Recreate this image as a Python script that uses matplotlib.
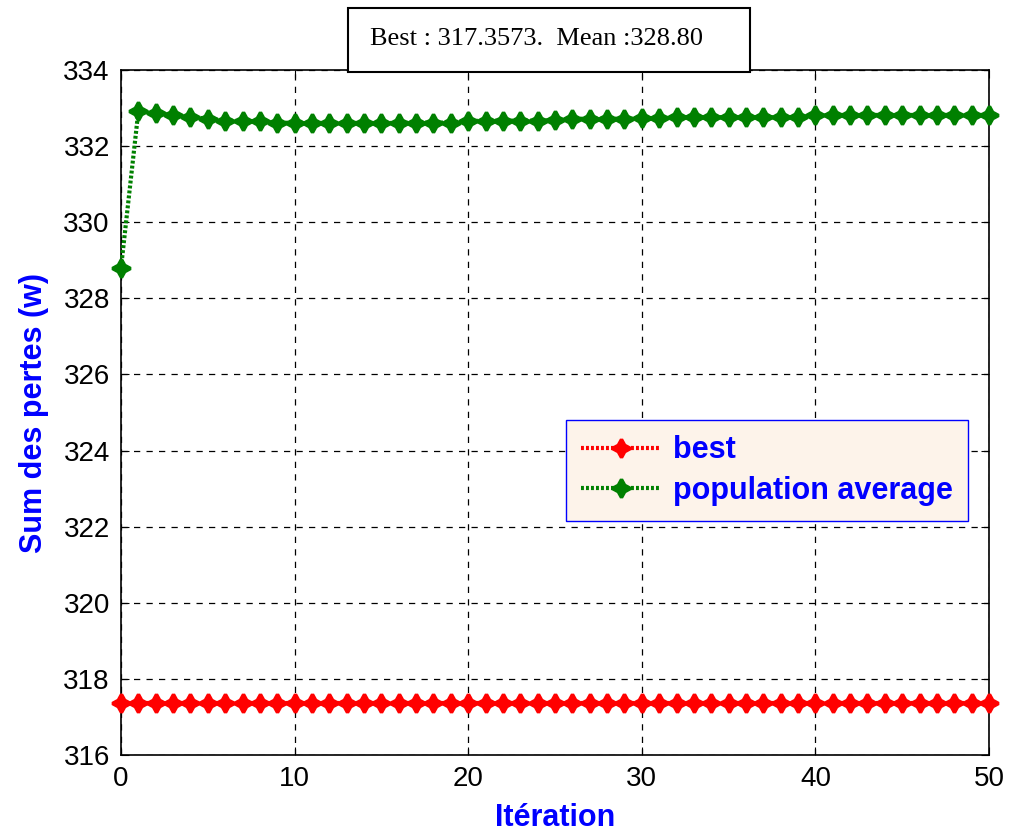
import matplotlib.pyplot as plt
from matplotlib.patches import Rectangle

iterations = list(range(51))
best = [317.3573] * 51
pop_avg = [328.80, 332.92, 332.86, 332.82, 332.77, 332.72, 332.67, 332.66, 332.65, 332.62,
           332.61, 332.61, 332.61, 332.61, 332.61, 332.61, 332.61, 332.62, 332.62, 332.62,
           332.66, 332.67, 332.67, 332.67, 332.67, 332.68, 332.72, 332.72, 332.72, 332.72,
           332.73, 332.73, 332.76, 332.76, 332.76, 332.76, 332.76, 332.76, 332.76, 332.76,
           332.81, 332.82, 332.82, 332.82, 332.82, 332.82, 332.82, 332.82, 332.82, 332.82,
           332.82]
title_txt = 'Best : 317.3573.  Mean :328.80'

plt.rcParams['font.family'] = ['Liberation Sans', 'DejaVu Sans']

fig = plt.figure(figsize=(10.1, 8.34), dpi=100)
ax = fig.add_axes([0.1198, 0.0947, 0.8594, 0.8213])

dots = (0, (0.7, 0.5))
mk = dict(marker=(4, 1, 0), markersize=13, markeredgewidth=2.5, clip_on=False, zorder=3)
ax.plot(iterations, best, color='red', linestyle=dots, linewidth=3, label='best', **mk)
ax.plot(iterations, pop_avg, color='green', linestyle=dots, linewidth=3,
        label='population average', **mk)

ax.set_xlim(0, 50)
ax.set_ylim(316, 334)
ax.set_xticks(range(0, 51, 10))
ax.set_yticks(range(316, 335, 2))
ax.tick_params(direction='in', top=True, right=True, labelsize=20, length=6, pad=8)
ax.grid(True, color='black', linestyle=(0, (5, 5)), linewidth=0.9)
for s in ax.spines.values():
    s.set_linewidth(1.2)

ax.set_xlabel('Itération', color='blue', fontsize=22, fontweight='bold', labelpad=8)
ax.set_ylabel('Sum des pertes (w)', color='blue', fontsize=22, fontweight='bold', labelpad=10)

leg = ax.legend(loc='upper left', bbox_to_anchor=(566 / 1010, 1 - 420 / 834),
                bbox_transform=fig.transFigure, fontsize=22, frameon=True,
                fancybox=False, handlelength=2.6, handletextpad=0.4,
                borderpad=0.5, labelspacing=0.35, borderaxespad=0)
leg.get_frame().set_facecolor('#fdf3ea')
leg.get_frame().set_edgecolor('blue')
leg.get_frame().set_alpha(1)
for t in leg.get_texts():
    t.set_color('blue')
    t.set_fontweight('bold')

fig.patches.append(Rectangle((348 / 1010, 1 - 72 / 834), 402 / 1010, 64 / 834,
                             transform=fig.transFigure, facecolor='white',
                             edgecolor='black', linewidth=1.5, zorder=5))
fig.text(370 / 1010, 1 - 45 / 834, title_txt, fontsize=19, family='Liberation Serif',
         ha='left', va='baseline', zorder=6)

fig.savefig('out.png', dpi=100)
